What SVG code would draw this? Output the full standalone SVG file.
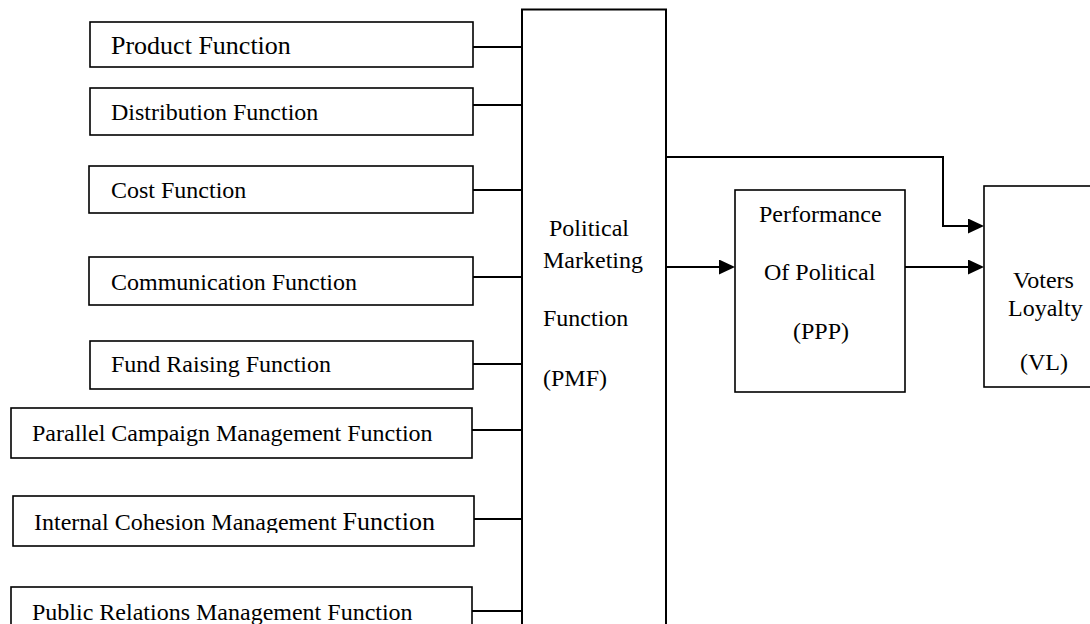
<svg xmlns="http://www.w3.org/2000/svg" width="1090" height="624" viewBox="0 0 1090 624">
<style>
.box{fill:#fff;stroke:#000;stroke-width:1.6}
.big{fill:#fff;stroke:#000;stroke-width:2}
.t{font-family:"Liberation Serif","Times New Roman",serif;font-size:24px;fill:#000}
.c{fill:none;stroke:#000;stroke-width:2}
</style>
<defs>
<marker id="ah" markerUnits="userSpaceOnUse" markerWidth="16" markerHeight="15" refX="2" refY="7.5" orient="auto">
<path d="M0,0 L16,7.5 L0,15 z" fill="#000"/>
</marker>
<clipPath id="clipIC"><rect x="13" y="496" width="461" height="37"/></clipPath>
</defs>
<rect width="1090" height="624" fill="#fff"/>

<g id="connectors">
<line class="c" x1="473" y1="47" x2="522" y2="47"/>
<line class="c" x1="473" y1="105" x2="522" y2="105"/>
<line class="c" x1="473" y1="190" x2="522" y2="190"/>
<line class="c" x1="473" y1="277" x2="522" y2="277"/>
<line class="c" x1="473" y1="364" x2="522" y2="364"/>
<line class="c" x1="472" y1="430" x2="522" y2="430"/>
<line class="c" x1="474" y1="519" x2="522" y2="519"/>
<line class="c" x1="472" y1="611" x2="522" y2="611"/>
<path class="c" d="M666,157 H943 V226 H970" marker-end="url(#ah)"/>
<path class="c" d="M666,267 H721" marker-end="url(#ah)"/>
<path class="c" d="M905,267 H970" marker-end="url(#ah)"/>
</g>

<g id="product">
<rect class="box" x="90" y="22" width="383" height="45"/>
<text class="t" x="111" y="54" style="font-size:26px">Product Function</text>
</g>
<g id="distribution">
<rect class="box" x="90" y="88" width="383" height="47"/>
<text class="t" x="111" y="120">Distribution Function</text>
</g>
<g id="cost">
<rect class="box" x="89" y="166" width="384" height="47"/>
<text class="t" x="111" y="198">Cost Function</text>
</g>
<g id="communication">
<rect class="box" x="89" y="257" width="384" height="48"/>
<text class="t" x="111" y="290">Communication Function</text>
</g>
<g id="fundraising">
<rect class="box" x="90" y="341" width="383" height="48"/>
<text class="t" x="111" y="372">Fund Raising Function</text>
</g>
<g id="parallel">
<rect class="box" x="11" y="408" width="461" height="50"/>
<text class="t" x="32" y="441">Parallel Campaign Management Function</text>
</g>
<g id="internal">
<rect class="box" x="13" y="496" width="461" height="50"/>
<text class="t" x="34" y="530" clip-path="url(#clipIC)">Internal Cohesion Management <tspan style="font-size:26px">Function</tspan></text>
</g>
<g id="publicrelations">
<rect class="box" x="11" y="587" width="461" height="60"/>
<text class="t" x="32" y="620">Public Relations Management Function</text>
</g>

<g id="pmf">
<rect class="big" x="522" y="9.5" width="144" height="700"/>
<text class="t" x="549" y="236">Political</text>
<text class="t" x="543" y="268">Marketing</text>
<text class="t" x="543" y="326">Function</text>
<text class="t" x="543" y="386">(PMF)</text>
</g>

<g id="ppp">
<rect class="box" x="735" y="190" width="170" height="202"/>
<text class="t" x="759" y="222">Performance</text>
<text class="t" x="764" y="280">Of Political</text>
<text class="t" x="793" y="339">(PPP)</text>
</g>

<g id="vl">
<rect class="box" x="984" y="186" width="200" height="201"/>
<text class="t" x="1013" y="288">Voters</text>
<text class="t" x="1008" y="316">Loyalty</text>
<text class="t" x="1020" y="370">(VL)</text>
</g>
</svg>
